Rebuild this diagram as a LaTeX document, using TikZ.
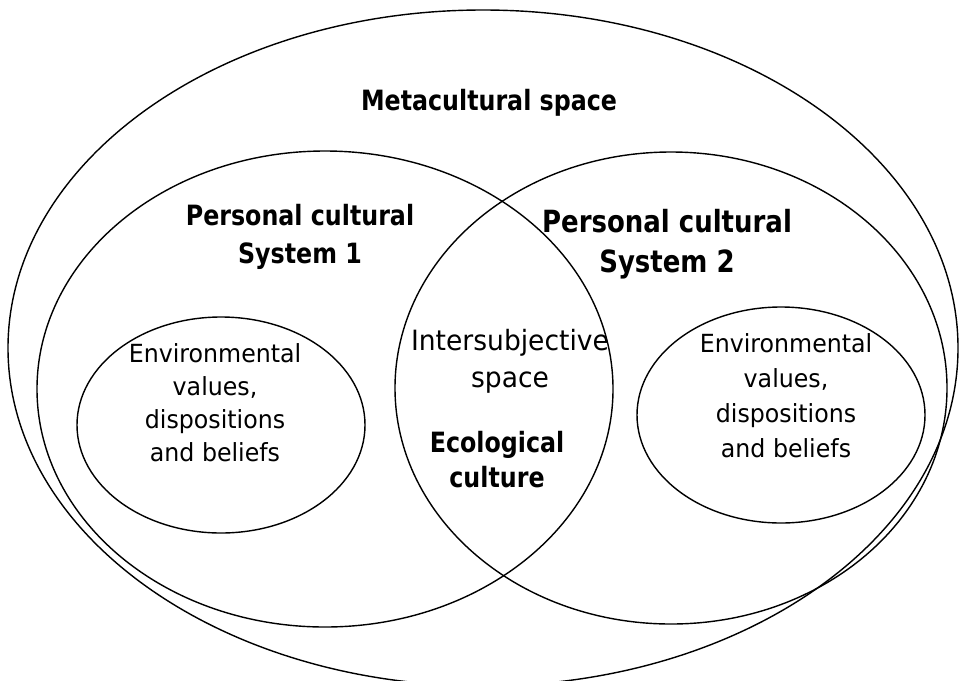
\documentclass[tikz,border=0pt]{standalone}
\usepackage{fontspec}
\setmainfont[FakeStretch=0.95]{DejaVu Sans}
\newfontfamily\headfont[FakeStretch=0.85]{DejaVu Sans}

\begin{document}
\begin{tikzpicture}[x=0.02cm, y=-0.02cm, line width=0.8pt,
    head/.style={font=\headfont\bfseries\fontsize{15.9}{21.6}\selectfont, align=center},
    bighead/.style={font=\headfont\bfseries\fontsize{17.4}{22.7}\selectfont, align=center},
    label/.style={font=\fontsize{15.9}{21}\selectfont, align=center},
    small/.style={font=\fontsize{14.2}{18.9}\selectfont, align=center}]
    \clip (0, 0) rectangle (959, 680);

    \draw (483, 348) ellipse [x radius=475, y radius=338];
    \draw (325, 389) ellipse [x radius=288, y radius=238];
    \draw (671, 388) ellipse [x radius=276, y radius=236];
    \draw (221, 425) ellipse [x radius=144, y radius=108];
    \draw (781, 415) ellipse [x radius=144, y radius=108];

    \node [head] (meta) at (489, 102.7) {Metacultural space};

    \node [head] (pcs1) at (300, 236.7) {Personal cultural\\System 1};
    \node [bighead] (pcs2) at (667, 244) {Personal cultural\\System 2};

    \node [small] (env1) at (215, 402.5) {Environmental\\values,\\dispositions\\and beliefs};
    \node [small, font=\fontsize{14.2}{19.9}\selectfont] (env2) at (786, 396) {Environmental\\values,\\dispositions\\and beliefs};

    \node [label] (inter) at (510, 361.2) {Intersubjective\\space};
    \node [head, font=\headfont\bfseries\fontsize{15.9}{19.9}\selectfont] (eco) at (497, 459.9) {Ecological\\culture};
\end{tikzpicture}
\end{document}
